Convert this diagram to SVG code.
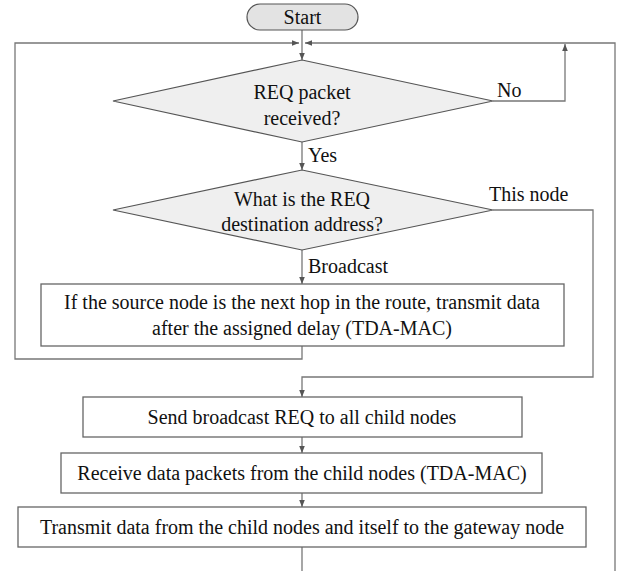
<svg xmlns="http://www.w3.org/2000/svg" width="618" height="571" viewBox="0 0 618 571">
<defs>
<marker id="ah" viewBox="0 0 10 10" refX="10" refY="5" markerWidth="7" markerHeight="7" markerUnits="userSpaceOnUse" orient="auto">
<path d="M0,1 L10,5 L0,9 z" fill="#555"/>
</marker>
<style>
text{font-family:'Liberation Serif','Times New Roman',serif;font-size:20px;fill:#111;}
.c{text-anchor:middle;}
.box{fill:#fff;stroke:#666;stroke-width:1.3;}
.dia{fill:#efefef;stroke:#555;stroke-width:1.2;}
.ln{fill:none;stroke:#777;stroke-width:1.3;}
</style>
</defs>
<rect width="618" height="571" fill="#fff"/>
<g id="connectors">
<path class="ln" d="M302,30 L302,60" marker-end="url(#ah)"/>
<path class="ln" d="M302,346 L302,359 L15,359 L15,43 L299,43" marker-end="url(#ah)"/>
<path class="ln" d="M615,571 L615,43 L305,43" marker-end="url(#ah)"/>
<path class="ln" d="M493,101 L565,101 L565,44" marker-end="url(#ah)"/>
<path class="ln" d="M302,142 L302,170" marker-end="url(#ah)"/>
<path class="ln" d="M302,250 L302,284" marker-end="url(#ah)"/>
<path class="ln" d="M493,210 L593,210 L593,377 L302,377 L302,397" marker-end="url(#ah)"/>
<path class="ln" d="M302,437 L302,453" marker-end="url(#ah)"/>
<path class="ln" d="M302,493 L302,507" marker-end="url(#ah)"/>
<path class="ln" d="M302,547 L302,571"/>
<text x="497" y="97">No</text>
<text x="308" y="162">Yes</text>
<text x="489" y="201">This node</text>
<text x="308" y="273">Broadcast</text>
</g>
<g id="start">
<rect x="247" y="4" width="111" height="26" rx="13" ry="13" fill="#e3e3e3" stroke="#555" stroke-width="1.2"/>
<text class="c" x="302.5" y="24">Start</text>
</g>
<g id="req-received">
<polygon class="dia" points="302,60 493,101 302,142 113,101"/>
<text class="c" x="302" y="99">REQ packet</text>
<text class="c" x="302" y="125">received?</text>
</g>
<g id="destination">
<polygon class="dia" points="302,170 493,210 302,250 113,210"/>
<text class="c" x="302" y="206">What is the REQ</text>
<text class="c" x="302" y="231">destination address?</text>
</g>
<g id="transmit-delay">
<rect class="box" x="41" y="284" width="523" height="62"/>
<text class="c" x="302" y="309">If the source node is the next hop in the route, transmit data</text>
<text class="c" x="302" y="335">after the assigned delay (TDA-MAC)</text>
</g>
<g id="send-broadcast">
<rect class="box" x="83" y="397" width="439" height="40"/>
<text class="c" x="302" y="424">Send broadcast REQ to all child nodes</text>
</g>
<g id="receive-data">
<rect class="box" x="61" y="453" width="481" height="40"/>
<text class="c" x="302" y="480">Receive data packets from the child nodes (TDA-MAC)</text>
</g>
<g id="transmit-gateway">
<rect class="box" x="18" y="507" width="568" height="40"/>
<text class="c" x="302" y="534">Transmit data from the child nodes and itself to the gateway node</text>
</g>
</svg>
